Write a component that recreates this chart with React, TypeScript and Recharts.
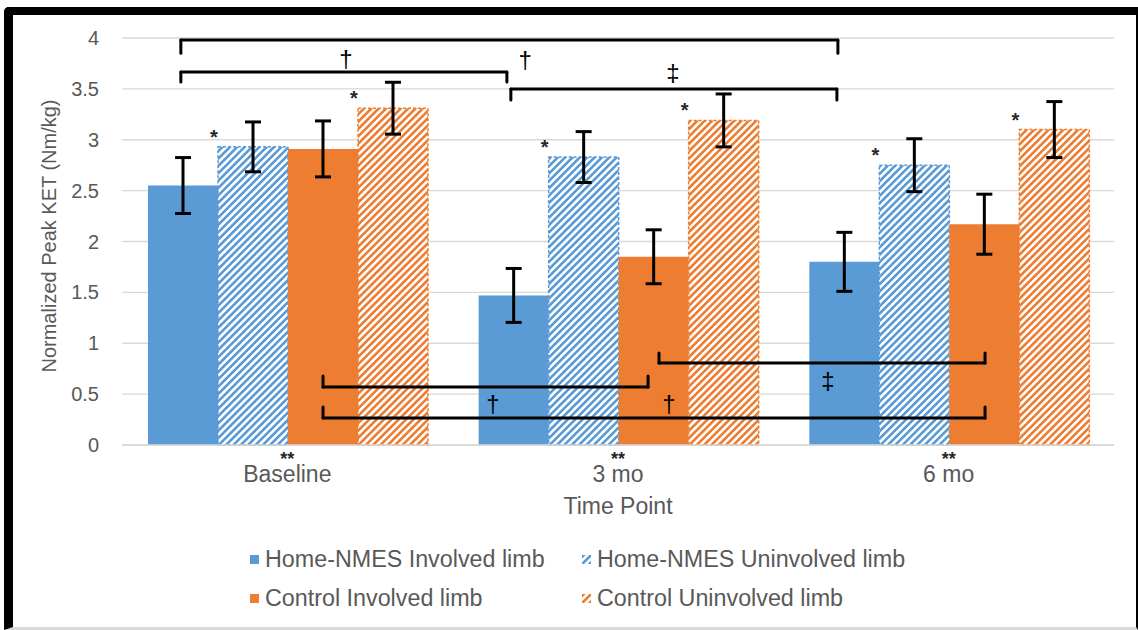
import {
  Bar,
  BarChart,
  CartesianGrid,
  ErrorBar,
  LabelList,
  ReferenceDot,
  ReferenceLine,
  XAxis,
  YAxis,
} from 'recharts';

const categories = ['Baseline', '3 mo', '6 mo'];
const categoryMarks = ['**', '**', '**'];

const homeInvolved = [2.55, 1.47, 1.8];
const homeInvolvedErr = [0.275, 0.265, 0.29];
const homeUninvolved = [2.93, 2.83, 2.75];
const homeUninvolvedErr = [0.245, 0.25, 0.26];
const controlInvolved = [2.91, 1.85, 2.17];
const controlInvolvedErr = [0.275, 0.265, 0.295];
const controlUninvolved = [3.31, 3.19, 3.1];
const controlUninvolvedErr = [0.255, 0.26, 0.275];

// significance stars shown above the uninvolved-limb bars
const homeUninvolvedMarks = ['*', '*', '*'];
const controlUninvolvedMarks = ['*', '*', '*'];

const yTicks = [0, 0.5, 1, 1.5, 2, 2.5, 3, 3.5, 4];

// comparison brackets, in (category slot, value) units: 0..3 across the plot
const bracketFrom = [0.178, 0.178, 1.176, 0.608, 0.608, 1.624];
const bracketTo = [2.165, 1.164, 2.162, 1.591, 2.61, 2.61];
const bracketLevel = [3.98, 3.666, 3.5, 0.57, 0.265, 0.806];
const bracketTip = [3.85, 3.568, 3.39, 0.678, 0.373, 0.904];

const symbolX = [0.677, 1.219, 1.666, 1.122, 1.654, 2.135];
const symbolY = [3.8, 3.79, 3.66, 0.41, 0.41, 0.63];
const symbolText = ['†', '†', '‡', '†', '†', '‡'];

const BLUE = '#5B9BD5';
const ORANGE = '#ED7D31';
const FONT = "'Liberation Sans', Arial, sans-serif";

const chartData = categories.map((name, i) => ({
  name,
  hi: homeInvolved[i],
  hiErr: homeInvolvedErr[i],
  hu: homeUninvolved[i],
  huErr: homeUninvolvedErr[i],
  huMark: homeUninvolvedMarks[i],
  ci: controlInvolved[i],
  ciErr: controlInvolvedErr[i],
  cu: controlUninvolved[i],
  cuErr: controlUninvolvedErr[i],
  cuMark: controlUninvolvedMarks[i],
}));

const renderStar = (props: any) => {
  const { x, y, value } = props;
  if (!value) return null;
  return (
    <text
      x={Number(x) - 4}
      y={Number(y) - 3}
      textAnchor="middle"
      fontFamily={FONT}
      fontSize={20}
      fontWeight="bold"
      fill="#262626"
    >
      {value}
    </text>
  );
};

const renderXTick = (props: any) => {
  const { x, y, payload, index } = props;
  return (
    <g>
      <text x={x} y={y + 20} textAnchor="middle" fontFamily={FONT} fontSize={18} fontWeight="bold" fill="#262626">
        {categoryMarks[index]}
      </text>
      <text x={x} y={y + 37} textAnchor="middle" fontFamily={FONT} fontSize={23} fill="#595959">
        {payload.value}
      </text>
    </g>
  );
};

const legendItems = [
  { label: 'Home-NMES Involved limb', fill: BLUE },
  { label: 'Home-NMES Uninvolved limb', fill: 'url(#hatchBlue)' },
  { label: 'Control Involved limb', fill: ORANGE },
  { label: 'Control Uninvolved limb', fill: 'url(#hatchOrange)' },
];

export default function App() {
  return (
    <div style={{ position: 'absolute', left: 0, top: 0, width: 1138, height: 630, background: '#fff' }}>
      <div
        style={{
          position: 'absolute',
          left: 4,
          top: 7,
          width: 1134,
          height: 623,
          boxSizing: 'border-box',
          borderTop: '8px solid #000',
          borderLeft: '9px solid #000',
          borderRight: '2px solid #000',
          borderBottom: '3px solid #d9d9d9',
          borderTopLeftRadius: 5,
        }}
      />
      <div style={{ position: 'absolute', left: 0, top: 0 }}>
        <BarChart
          width={1138}
          height={630}
          data={chartData}
          margin={{ top: 38, right: 24, left: 0, bottom: 125 }}
          barCategoryGap={26}
          barGap={0}
        >
          <defs>
            <pattern id="hatchBlue" patternUnits="userSpaceOnUse" width={5.2} height={5.2} patternTransform="rotate(45)">
              <rect width={5.2} height={5.2} fill="#fff" />
              <rect width={2.6} height={5.2} fill={BLUE} />
            </pattern>
            <pattern id="hatchOrange" patternUnits="userSpaceOnUse" width={5.2} height={5.2} patternTransform="rotate(45)">
              <rect width={5.2} height={5.2} fill="#fff" />
              <rect width={2.6} height={5.2} fill={ORANGE} />
            </pattern>
          </defs>
          <CartesianGrid vertical={false} stroke="#d9d9d9" strokeWidth={1.3} />
          <XAxis
            dataKey="name"
            tickLine={false}
            tickSize={0}
            tickMargin={0}
            height={60}
            axisLine={{ stroke: '#d9d9d9', strokeWidth: 1.3 }}
            tick={renderXTick}
            interval={0}
            label={{
              content: (p: any) => {
                const vb = p.viewBox;
                return (
                  <text
                    x={vb.x + vb.width / 2}
                    y={vb.y + 69}
                    textAnchor="middle"
                    fontFamily={FONT}
                    fontSize={23}
                    fill="#595959"
                  >
                    Time Point
                  </text>
                );
              },
            }}
          />
          {/* hidden linear axis spanning the three category slots, used for the brackets */}
          <XAxis
            xAxisId="num"
            type="number"
            dataKey={() => 0}
            domain={[0, 3]}
            allowDataOverflow
            hide
          />
          <YAxis
            width={122}
            domain={[0, 4]}
            ticks={yTicks}
            interval={0}
            axisLine={false}
            tickLine={false}
            tickSize={0}
            tickMargin={23}
            tick={{ fontFamily: FONT, fontSize: 20, fill: '#595959' }}
            label={{
              content: (p: any) => {
                const vb = p.viewBox;
                const cx = vb.x + 56;
                const cy = 236;
                return (
                  <text
                    x={cx}
                    y={cy}
                    transform={`rotate(-90, ${cx}, ${cy})`}
                    textAnchor="middle"
                    fontFamily={FONT}
                    fontSize={20}
                    fill="#595959"
                  >
                    Normalized Peak KET (Nm/kg)
                  </text>
                );
              },
            }}
          />
          <Bar dataKey="hi" name="Home-NMES Involved limb" fill={BLUE} isAnimationActive={false}>
            <ErrorBar dataKey="hiErr" width={8} strokeWidth={3} stroke="#000" direction="y" isAnimationActive={false} />
          </Bar>
          <Bar
            dataKey="hu"
            name="Home-NMES Uninvolved limb"
            fill="url(#hatchBlue)"
            stroke={BLUE}
            strokeWidth={1.5}
            strokeDasharray="3 2"
            isAnimationActive={false}
          >
            <ErrorBar dataKey="huErr" width={8} strokeWidth={3} stroke="#000" direction="y" isAnimationActive={false} />
            <LabelList dataKey="huMark" content={renderStar} />
          </Bar>
          <Bar dataKey="ci" name="Control Involved limb" fill={ORANGE} isAnimationActive={false}>
            <ErrorBar dataKey="ciErr" width={8} strokeWidth={3} stroke="#000" direction="y" isAnimationActive={false} />
          </Bar>
          <Bar
            dataKey="cu"
            name="Control Uninvolved limb"
            fill="url(#hatchOrange)"
            stroke={ORANGE}
            strokeWidth={1.5}
            strokeDasharray="3 2"
            isAnimationActive={false}
          >
            <ErrorBar dataKey="cuErr" width={8} strokeWidth={3} stroke="#000" direction="y" isAnimationActive={false} />
            <LabelList dataKey="cuMark" content={renderStar} />
          </Bar>
          {bracketFrom.flatMap((from, i) => {
            const to = bracketTo[i];
            const lvl = bracketLevel[i];
            const tip = bracketTip[i];
            const common = {
              xAxisId: 'num',
              stroke: '#000',
              strokeWidth: 3,
              strokeLinecap: 'round' as const,
              ifOverflow: 'visible' as const,
              isFront: true,
            };
            return [
              <ReferenceLine key={`h${i}`} {...common} segment={[{ x: from, y: lvl }, { x: to, y: lvl }]} />,
              <ReferenceLine key={`l${i}`} {...common} segment={[{ x: from, y: lvl }, { x: from, y: tip }]} />,
              <ReferenceLine key={`r${i}`} {...common} segment={[{ x: to, y: lvl }, { x: to, y: tip }]} />,
            ];
          })}
          {symbolX.map((sx, i) => (
            <ReferenceDot
              key={`s${i}`}
              xAxisId="num"
              x={sx}
              y={symbolY[i]}
              r={0}
              fill="none"
              stroke="none"
              isFront
              ifOverflow="visible"
              label={{ value: symbolText[i], position: 'center', fontSize: 24, fill: '#000', fontFamily: FONT }}
            />
          ))}
        </BarChart>
      </div>
      <div
        style={{
          position: 'absolute',
          left: 250,
          top: 546,
          width: 760,
          display: 'grid',
          gridTemplateColumns: '332px 380px',
          rowGap: 12,
          fontFamily: FONT,
          fontSize: 23.3,
          color: '#595959',
        }}
      >
        {legendItems.map((item) => (
          <div key={item.label} style={{ display: 'flex', alignItems: 'center', height: 27, whiteSpace: 'nowrap' }}>
            <svg width={9} height={9} style={{ marginRight: 6 }}>
              <rect width={9} height={9} fill={item.fill} />
            </svg>
            <span>{item.label}</span>
          </div>
        ))}
      </div>
    </div>
  );
}
